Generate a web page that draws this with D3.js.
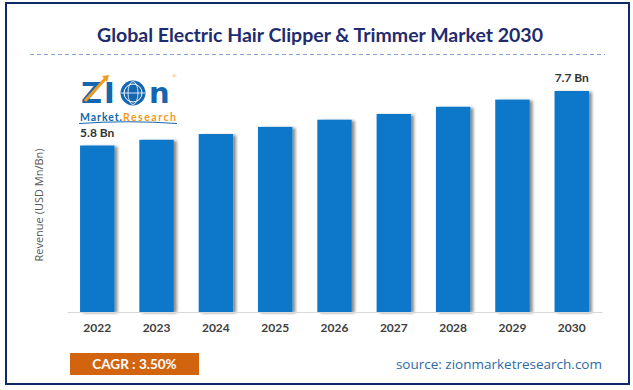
<!DOCTYPE html>
<html><head><meta charset="utf-8">
<script src="https://cdn.jsdelivr.net/npm/d3@7"></script>
<style>html,body{margin:0;padding:0;background:#fff;}svg{display:block;}</style>
</head><body>
<script>
const years = ["2022","2023","2024","2025","2026","2027","2028","2029","2030"];
const revenue = [5.8, 6.0, 6.2, 6.45, 6.7, 6.9, 7.15, 7.4, 7.7];
const valueLabels = ["5.8 Bn", "", "", "", "", "", "", "", "7.7 Bn"];
const titleText = "Global Electric Hair Clipper & Trimmer Market 2030";
const yAxisTitle = "Revenue (USD Mn/Bn)";
const cagrText = "CAGR : 3.50%";
const sourceText = "source: zionmarketresearch.com";

const W = 633, H = 390;
const svg = d3.select("body").append("svg").attr("width", W).attr("height", H);
const defs = svg.append("defs");
const f = defs.append("filter").attr("id","sh").attr("x","-20%").attr("y","-5%").attr("width","160%").attr("height","110%");
f.append("feDropShadow").attr("dx",3).attr("dy",1).attr("stdDeviation",1.6).attr("flood-color","#000").attr("flood-opacity",0.45);

svg.append("rect").attr("width",W).attr("height",H).attr("fill","#fff");
svg.append("rect").attr("x",6).attr("y",3).attr("width",623).attr("height",381)
  .attr("fill","none").attr("stroke","#0d2a6a").attr("stroke-width",2);

svg.append("text").attr("x",320).attr("y",42).attr("text-anchor","middle")
  .attr("font-family","Lato, 'Open Sans', sans-serif").attr("font-weight","bold")
  .attr("font-size",19.5).attr("fill","#1f2c6e").text(titleText);
svg.append("line").attr("x1",30).attr("x2",605).attr("y1",54.5).attr("y2",54.5)
  .attr("stroke","#7fa3d9").attr("stroke-width",1.2).attr("stroke-dasharray","4,3");

const x = d3.scaleBand().domain(years).range([67, 602]).paddingInner(0.42).paddingOuter(0.22);
const y = d3.scaleLinear().domain([0, 7.7]).range([312, 91]);

svg.append("g").selectAll("rect").data(years).join("rect")
  .attr("x", d => x(d)).attr("width", x.bandwidth())
  .attr("y", (d,i) => y(revenue[i])).attr("height", (d,i) => y(0) - y(revenue[i]))
  .attr("fill","#0a77c9").attr("filter","url(#sh)");

const xAxis = svg.append("g").attr("transform","translate(0,312)")
  .call(d3.axisBottom(x).tickSize(0).tickPadding(11));
xAxis.select(".domain").attr("stroke","#d9d9d9").attr("stroke-width",1.2);
xAxis.selectAll("text").attr("font-family","Lato, 'Open Sans', sans-serif").attr("font-weight","bold")
  .attr("font-size",12).attr("fill","#404040");

svg.append("g").selectAll("text").data(years).join("text")
  .attr("x", d => x(d) + x.bandwidth()/2).attr("y", (d,i) => y(revenue[i]) - 9)
  .attr("text-anchor","middle").attr("font-family","Lato, 'Open Sans', sans-serif").attr("font-weight","bold")
  .attr("font-size",12).attr("fill","#333").text((d,i) => valueLabels[i]);

svg.append("text").attr("transform","translate(43,205) rotate(-90)").attr("text-anchor","middle")
  .attr("font-family","'Open Sans', sans-serif").attr("font-size",11).attr("fill","#555").text(yAxisTitle);

// CAGR box
svg.append("rect").attr("x",70).attr("y",353).attr("width",129).attr("height",22).attr("fill","#d2640f");
svg.append("text").attr("x",134.5).attr("y",369).attr("text-anchor","middle")
  .attr("font-family","Lato, 'Open Sans', sans-serif").attr("font-weight","bold").attr("font-size",13.5)
  .attr("fill","#fff").text(cagrText);
svg.append("text").attr("x",602).attr("y",369).attr("text-anchor","end")
  .attr("font-family","'Open Sans', sans-serif").attr("font-size",13.5).attr("fill","#2f6aa6").text(sourceText);

// Logo
const logo = svg.append("g");
const bigFont = {"font-family":"'DejaVu Sans', sans-serif","font-weight":"bold","font-size":29,"fill":"#1466b0"};
const zT = logo.append("text").attr("x",81).attr("y",103).text("Z");
const iT = logo.append("text").attr("x",104).attr("y",103).text("I");
const nT = logo.append("text").attr("x",149).attr("y",103).text("n");
[zT,iT,nT].forEach(t => Object.entries(bigFont).forEach(([k,v]) => t.attr(k,v)));
logo.append("line").attr("x1",85).attr("y1",101).attr("x2",106).attr("y2",78).attr("stroke","#f29a1e").attr("stroke-width",3);
logo.append("path").attr("d","M102,76 L109,75 L107,82 Z").attr("fill","#f29a1e");
logo.append("circle").attr("cx",133).attr("cy",93).attr("r",12.5).attr("fill","#1466b0");
logo.append("circle").attr("cx",133).attr("cy",93).attr("r",9).attr("fill","none").attr("stroke","#fff").attr("stroke-width",1);
logo.append("ellipse").attr("cx",133).attr("cy",93).attr("rx",5).attr("ry",11.5).attr("fill","none").attr("stroke","#fff").attr("stroke-width",0.8);
logo.append("line").attr("x1",121).attr("x2",145).attr("y1",93).attr("y2",93).attr("stroke","#fff").attr("stroke-width",0.8);
logo.append("text").attr("x",172).attr("y",78).attr("font-size",6).attr("fill","#f29a1e").text("®");
logo.append("text").attr("x",80).attr("y",121).attr("font-family","Lato, sans-serif").attr("font-weight","bold")
  .attr("font-size",10.5).attr("fill","#1466b0").attr("textLength",42).text("Market.");
logo.append("text").attr("x",123).attr("y",121).attr("font-family","Lato, sans-serif").attr("font-weight","bold")
  .attr("font-size",10.5).attr("fill","#f29a1e").attr("textLength",53).text("Research");
logo.append("path").attr("d","M79,123.5 Q128,120 177,123.5").attr("fill","none").attr("stroke","#1466b0").attr("stroke-width",1);
</script>
</body></html>
